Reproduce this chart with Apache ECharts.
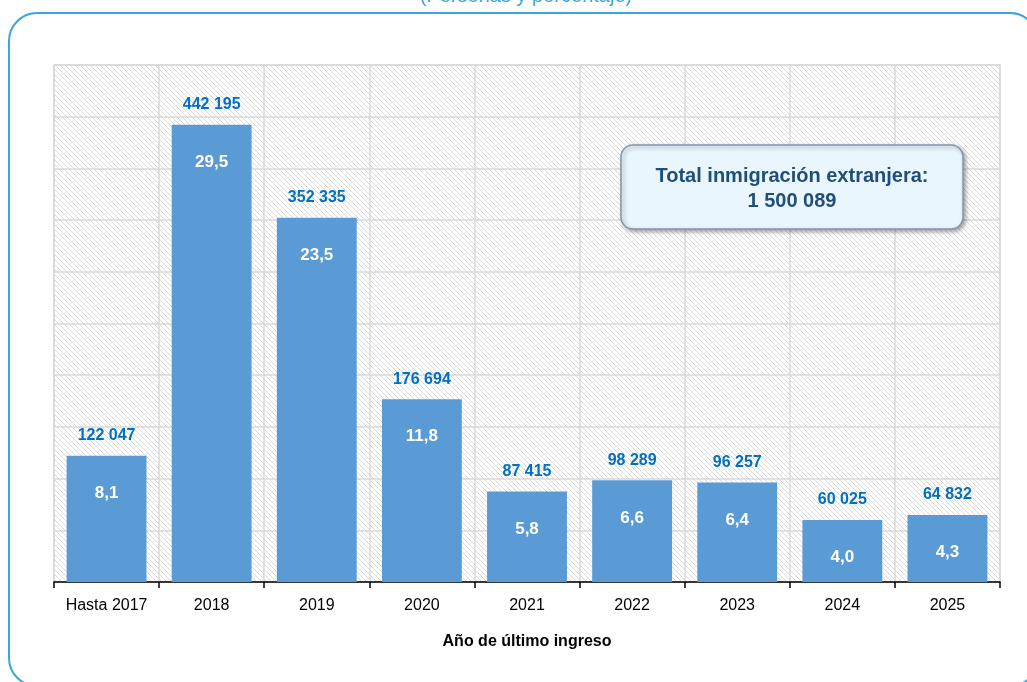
<!DOCTYPE html>
<html>
<head>
	<meta charset="UTF-8">
	<title></title>
	<script src="https://cdn.jsdelivr.net/npm/echarts@6/dist/echarts.min.js"></script>
	<style>
		html, body { margin: 0; padding: 0; background: #fff; }
	</style>
</head>
<body>
	<div id="main" style="width: 1027px;height:682px;"></div>
	<script type="text/javascript">
		var categories = ['Hasta 2017', '2018', '2019', '2020', '2021', '2022', '2023', '2024', '2025'];
		var persons = [122047, 442195, 352335, 176694, 87415, 98289, 96257, 60025, 64832];
		var percents = [8.1, 29.5, 23.5, 11.8, 5.8, 6.6, 6.4, 4.0, 4.3];
		var totalText = 'Total inmigración extranjera:\n1 500 089';

		var font = "'Liberation Sans', Arial, sans-serif";

		// hatch pattern for the plot background
		var tile = document.createElement('canvas');
		tile.width = 5;
		tile.height = 5;
		var ctx = tile.getContext('2d');
		ctx.fillStyle = '#ffffff';
		ctx.fillRect(0, 0, 5, 5);
		ctx.strokeStyle = '#dadada';
		ctx.lineWidth = 1;
		ctx.beginPath();
		ctx.moveTo(-1, -1); ctx.lineTo(6, 6);
		ctx.moveTo(-1, 4); ctx.lineTo(2, 7);
		ctx.moveTo(4, -1); ctx.lineTo(7, 2);
		ctx.stroke();

		function fmtNum(v) {
			return String(v).replace(/\B(?=(\d{3})+(?!\d))/g, ' ');
		}

		var myChart = echarts.init(document.getElementById('main'));
		myChart.setOption({
			backgroundColor: '#fff',
			animation: false,
			graphic: [{
				type: 'rect',
				shape: { x: 9, y: 13, width: 1029, height: 673, r: 28 },
				style: { fill: 'none', stroke: '#3aa6dc', lineWidth: 2 },
				z: 0
			}, {
				type: 'text',
				x: 526,
				y: -4,
				style: {
					text: '(Personas y porcentaje)',
					fill: '#3aa6dc',
					font: '20px ' + font,
					align: 'center',
					verticalAlign: 'middle'
				}
			}, {
				type: 'rect',
				shape: { x: 621, y: 145, width: 342, height: 84, r: 12 },
				style: {
					fill: '#eaf6fd',
					stroke: '#8595ad',
					lineWidth: 1.5,
					shadowBlur: 4,
					shadowOffsetX: 2,
					shadowOffsetY: 2,
					shadowColor: 'rgba(0,0,0,0.35)'
				},
				z: 10
			}, {
				type: 'text',
				x: 792,
				y: 189,
				style: {
					text: totalText,
					fill: '#1f4e79',
					font: 'bold 20px ' + font,
					align: 'center',
					verticalAlign: 'middle',
					lineHeight: 25
				},
				z: 11
			}],
			grid: {
				left: 54,
				right: 27,
				top: 65,
				bottom: 100,
				show: true,
				backgroundColor: { image: tile, repeat: 'repeat' },
				borderColor: '#d9d9d9',
				borderWidth: 1.5
			},
			xAxis: {
				type: 'category',
				data: categories,
				name: 'Año de último ingreso',
				nameLocation: 'middle',
				nameGap: 52,
				nameTextStyle: { color: '#000', fontSize: 16, fontWeight: 'bold', fontFamily: font },
				axisLine: { lineStyle: { color: '#000', width: 1.5 } },
				axisTick: { show: true, interval: 0, length: 6, lineStyle: { color: '#000', width: 1.5 } },
				axisLabel: { interval: 0, color: '#000', fontSize: 16, fontFamily: font, margin: 16 },
				splitLine: { show: true, interval: 0, lineStyle: { color: '#d9d9d9', width: 1.5 } }
			},
			yAxis: {
				type: 'value',
				min: 0,
				max: 500000,
				interval: 50000,
				axisLine: { show: false },
				axisTick: { show: false },
				axisLabel: { show: false },
				splitLine: { show: true, lineStyle: { color: '#d9d9d9', width: 1.5 } }
			},
			series: [{
				type: 'bar',
				data: persons,
				barWidth: '76%',
				itemStyle: { color: '#5b9bd5' },
				label: {
					show: true,
					position: 'top',
					distance: 12,
					color: '#0070c0',
					fontSize: 16,
					fontWeight: 'bold',
					fontFamily: font,
					formatter: function (p) { return fmtNum(p.value); }
				}
			}, {
				type: 'bar',
				data: persons,
				barWidth: '76%',
				barGap: '-100%',
				silent: true,
				itemStyle: { color: 'rgba(0,0,0,0)' },
				label: {
					show: true,
					position: 'insideTop',
					distance: 29,
					color: '#fff',
					fontSize: 17,
					fontWeight: 'bold',
					fontFamily: font,
					formatter: function (p) { return percents[p.dataIndex].toFixed(1).replace('.', ','); }
				}
			}]
		});
	</script>
</body>
</html>
